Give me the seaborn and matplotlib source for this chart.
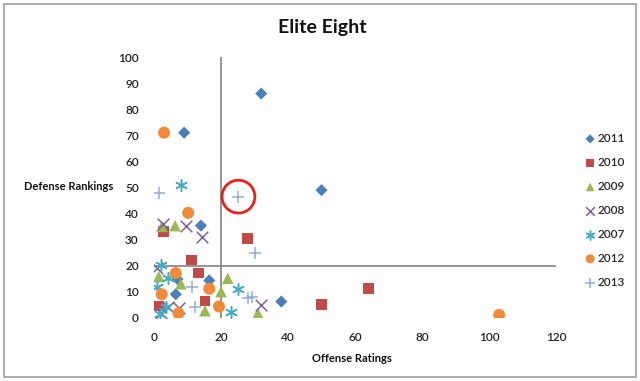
import matplotlib
matplotlib.use("Agg")
import matplotlib.pyplot as plt
import seaborn as sns
import pandas as pd
from matplotlib.patches import Rectangle

# data (offense rating, defense ranking)
years = ['2011', '2010', '2009', '2008', '2007', '2012', '2013']

off_2011 = [32, 9, 50, 14, 16.5, 7, 6.5, 38]
def_2011 = [86, 71, 49, 35.4, 14.4, 14.9, 9.1, 6.3]

off_2010 = [28, 11.2, 13.2, 2.8, 1.3, 15.2, 50, 64]
def_2010 = [30.4, 22.2, 17.2, 33.2, 4.6, 6.5, 5.3, 11.2]

off_2009 = [2.4, 6.3, 1.4, 8, 22, 20, 15.2, 31]
def_2009 = [35.1, 35.4, 15.9, 13.1, 15.2, 10.1, 2.8, 1.8]

off_2008 = [2.7, 9.5, 14.2, 0.8, 4.3, 7.5, 32, 2.2]
def_2008 = [36.2, 35.4, 31, 19.3, 4.4, 3.7, 5, 2]

off_2007 = [8, 2, 4.3, 1, 1.8, 23, 25, 3.6]
def_2007 = [51, 20.2, 15.3, 12, 1.6, 2.4, 11, 4.2]

off_2012 = [3, 10.2, 6.5, 2.3, 16.5, 7.3, 19.4, 103]
def_2012 = [71, 40.3, 17.2, 9.1, 11.2, 1.8, 4.4, 1.2]

off_2013 = [1.5, 25, 30, 11.3, 12.2, 28, 29.4]
def_2013 = [48, 46.3, 25, 12, 4.3, 7.5, 8]

offense = [off_2011, off_2010, off_2009, off_2008, off_2007, off_2012, off_2013]
defense = [def_2011, def_2010, def_2009, def_2008, def_2007, def_2012, def_2013]

colors = ['#4A7EBB', '#BE4B48', '#98B954', '#7D60A0', '#46AAC5', '#F38A3A', '#97A9D9']
markers = ['D', 's', '^', 'x', (6, 2, 0), 'o', '+']
sizes = [38, 60, 70, 70, 70, 75, 80]

rows = []
for y, xs, ds in zip(years, offense, defense):
    for a, b in zip(xs, ds):
        rows.append({'year': y, 'offense': a, 'defense': b})
df = pd.DataFrame(rows)

sns.set_style("white")
plt.rcParams['font.family'] = ['Lato', 'DejaVu Sans']

fig = plt.figure(figsize=(6.4, 3.81), dpi=100)
ax = fig.add_axes([154/640, 1-318/381, (556-154)/640, (318-57)/381])

ax.axhline(20, color='#8C8C8C', lw=1.3, zorder=1)
ax.axvline(20, color='#8C8C8C', lw=1.3, zorder=1)

for i, y in enumerate(years):
    sub = df[df['year'] == y]
    filled = markers[i] in ['D', 's', '^', 'o']
    kw = dict(edgecolor='none') if filled else dict(linewidth=1.1)
    sns.scatterplot(data=sub, x='offense', y='defense', ax=ax, color=colors[i],
                    marker=markers[i], s=sizes[i], label=y, zorder=3, **kw)

# red circle around the highlighted 2013 point
circ = pd.DataFrame({'offense': [25.2], 'defense': [46.5]})
sns.scatterplot(data=circ, x='offense', y='defense', ax=ax, s=560, marker='o',
                facecolor='none', edgecolor='#E8201E', linewidth=2, zorder=4)

ax.set_xlim(0, 120)
ax.set_ylim(0, 100)
ax.set_xticks(range(0, 121, 20))
ax.set_yticks(range(0, 101, 10))
ax.tick_params(length=0, labelsize=8.5, colors='#222222')
ax.tick_params(axis='y', pad=11)
ax.tick_params(axis='x', pad=10)
for lab in ax.get_xticklabels() + ax.get_yticklabels():
    lab.set_fontweight('semibold')
for s in ax.spines.values():
    s.set_visible(False)
ax.set_xlabel('')
ax.set_ylabel('')

leg = ax.legend(loc='upper left', bbox_to_anchor=(586/640, 1-133/381),
                bbox_transform=fig.transFigure, frameon=False, fontsize=8.5,
                labelspacing=1.1, handlelength=0.7, handletextpad=0.3,
                borderaxespad=0, borderpad=0, markerscale=0.75)
for t in leg.get_texts():
    t.set_fontweight('semibold')

fig.text(322/640, 1-28/381, 'Elite Eight', ha='center', va='center',
         fontsize=14, fontweight='bold', color='#111111')
fig.text(69/640, 1-187/381, 'Defense Rankings', ha='center', va='center',
         fontsize=8, fontweight='bold', color='#111111')
fig.text(352/640, 1-358/381, 'Offense Ratings', ha='center', va='center',
         fontsize=8, fontweight='bold', color='#111111')

# chart border
fig.patches.append(Rectangle((4/640, 4/381), 632/640, 373/381, transform=fig.transFigure,
                             fill=False, edgecolor='#A6A6A6', lw=1.3))

fig.savefig('out.png', dpi=100)
